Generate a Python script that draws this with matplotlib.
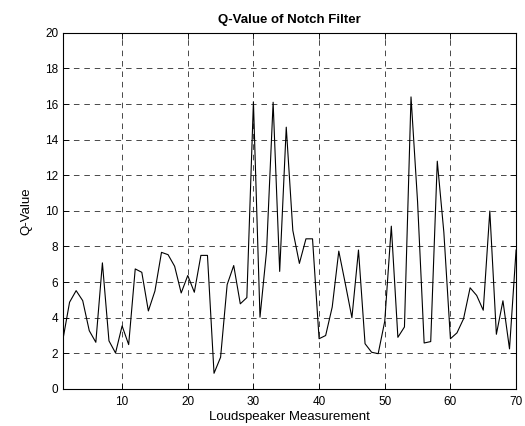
import matplotlib
matplotlib.use('Agg')
import matplotlib.pyplot as plt
import numpy as np

# Q-value for each loudspeaker measurement
measurement = np.arange(1, 71)
q_value = [
    2.8, 4.87, 5.52, 4.96, 3.27, 2.62, 7.08, 2.7, 2.02, 3.54,
    2.49, 6.74, 6.55, 4.38, 5.5, 7.67, 7.54, 6.89, 5.39, 6.37,
    5.43, 7.5, 7.5, 0.88, 1.78, 5.86, 6.93, 4.78, 5.13, 16.13,
    4.03, 7.74, 16.1, 6.6, 14.7, 8.9, 7.05, 8.43, 8.43, 2.82,
    3.0, 4.6, 7.74, 5.9, 4.0, 7.8, 2.54, 2.06, 1.98, 3.8,
    9.14, 2.9, 3.48, 16.4, 10.5, 2.58, 2.66, 12.79, 8.8, 2.82,
    3.15, 3.94, 5.68, 5.25, 4.42, 9.99, 3.07, 4.95, 2.25, 7.8,
]
x_ticks = [10, 20, 30, 40, 50, 60, 70]
y_ticks = list(range(0, 21, 2))

plt.rcParams['font.family'] = ['Liberation Sans', 'DejaVu Sans']
plt.rcParams['lines.scale_dashes'] = False

fig = plt.figure(figsize=(5.25, 4.26), dpi=100)
ax = fig.add_axes([0.12, 0.087, 0.863, 0.836])

ax.plot(measurement, q_value, color='black', linewidth=0.8)

ax.set_xlim(1, 70)
ax.set_ylim(0, 20)
ax.set_xticks(x_ticks)
ax.set_yticks(y_ticks)
ax.tick_params(direction='in', top=True, right=True, labelsize=8.5, length=4, width=0.6)
ax.tick_params(axis='x', pad=5)
ax.grid(True, color='black', linestyle=(0, (4, 3.5)), linewidth=0.5)
for s in ax.spines.values():
    s.set_linewidth(0.8)

ax.set_title('Q-Value of Notch Filter', fontsize=9.5, fontweight='bold', pad=7)
ax.set_xlabel('Loudspeaker Measurement', fontsize=9.5, labelpad=2)
ax.set_ylabel('Q-Value', fontsize=9.5, labelpad=9)

fig.savefig('out.png', dpi=100)
